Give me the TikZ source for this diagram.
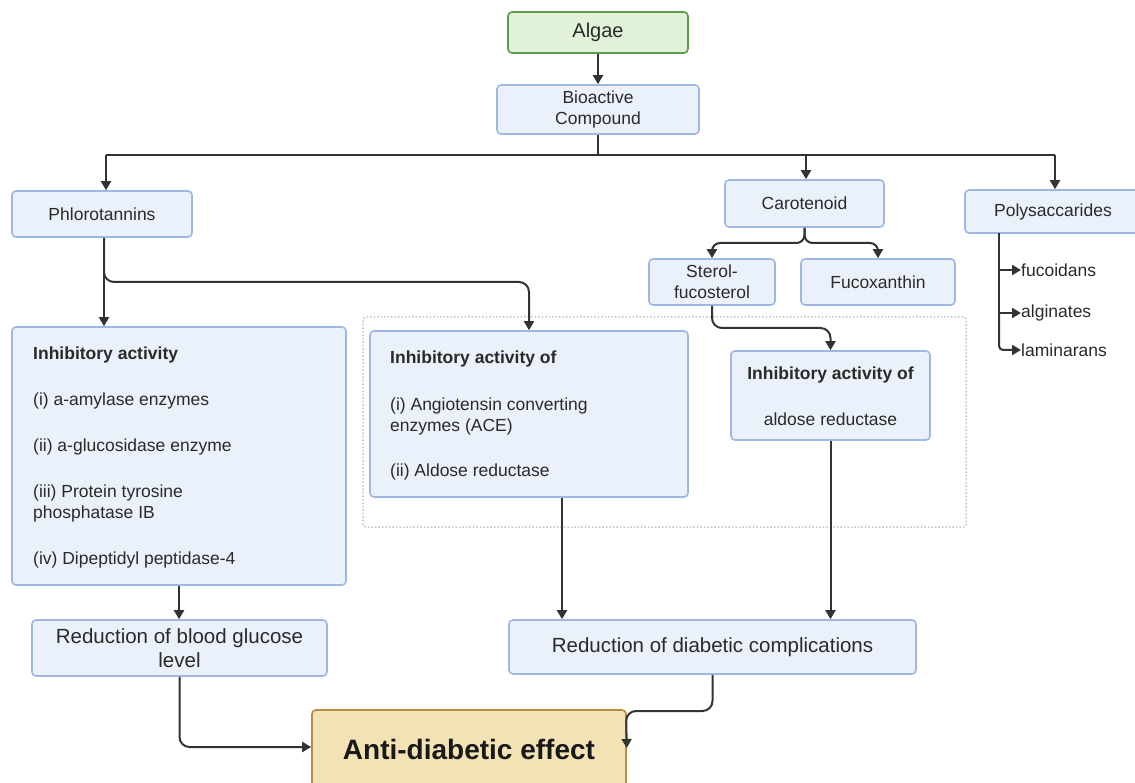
\documentclass[tikz,border=0pt]{standalone}
\usepackage{fontspec}
\setmainfont{Liberation Sans}
\usetikzlibrary{arrows.meta}
\definecolor{bfill}{HTML}{EBF1FA}
\definecolor{bdraw}{HTML}{9FB7E3}
\definecolor{gfill}{HTML}{E1F2D9}
\definecolor{gdraw}{HTML}{5E9C4C}
\definecolor{afill}{HTML}{F3E2B3}
\definecolor{adraw}{HTML}{B98A47}
\definecolor{txt}{HTML}{2A2A2A}
\definecolor{lin}{HTML}{333333}
\definecolor{dotc}{HTML}{C4C4C4}
\newcommand\fsz[2]{\fontsize{#1}{#2}\selectfont}
\begin{document}
\begin{tikzpicture}[x=1pt,y=-1pt,
  box/.style={draw=bdraw, fill=bfill, line width=1.6pt, rounded corners=4pt, inner sep=0pt,
     text=txt, align=center, font=\fsz{17.5}{21}},
  txtnode/.style={inner sep=0pt, text=txt, align=left, font=\fsz{17.5}{21}},
  conn/.style={draw=lin, line width=2pt},
  arr/.style={conn, -{Triangle[length=9pt,width=10pt]}},
]
\useasboundingbox (0,0) rectangle (1135,783);

% group outline
\node[draw=dotc, line width=1.5pt, dotted, rounded corners=3pt, minimum width=603pt, minimum height=210pt] (grp) at (664.5,422) {};

% nodes
\node[box, draw=gdraw, fill=gfill, font=\fsz{20}{24}, minimum width=180pt, minimum height=41pt] (alg) at (598,32.5) {Algae};
\node[box, minimum width=202pt, minimum height=49pt] (bio) at (598,109.5) {Bioactive\\Compound};
\node[box, minimum width=180pt, minimum height=46pt] (phl) at (102,214) {Phlorotannins};
\node[box, minimum width=159pt, minimum height=47pt] (car) at (804.5,203.5) {Carotenoid};
\node[box, minimum width=176pt, minimum height=43pt] (poly) at (1053,211.5) {Polysaccarides};
\node[box, minimum width=126pt, minimum height=46pt] (ster) at (712,282) {Sterol-\\fucosterol};
\node[box, minimum width=154pt, minimum height=46pt] (fuco) at (878,282) {Fucoxanthin};
\node[box, minimum width=334pt, minimum height=258pt] (left) at (179,456) {};
\node[box, minimum width=318pt, minimum height=166pt] (mid) at (529,414) {};
\node[box, minimum width=199pt, minimum height=89pt] (rin) at (830.5,395.5) {};
\node[box, font=\fsz{20.5}{24}, minimum width=295pt, minimum height=56pt] (red1) at (179.5,648) {Reduction of blood glucose\\level};
\node[box, font=\fsz{20.5}{24}, minimum width=407pt, minimum height=54pt] (red2) at (712.5,647) {Reduction of diabetic complications};
\node[box, draw=adraw, fill=afill, text=black!90, font=\fsz{28}{32}\bfseries, minimum width=314pt, minimum height=82pt] (anti) at (469,751) {\raisebox{3pt}{Anti-diabetic effect}};

% texts inside big boxes
\node[txtnode, anchor=north west] (lefttxt) at (33,344.3) {\strut\textbf{Inhibitory activity}\\[25.5pt]
(i) a-amylase enzymes\\[25pt]
(ii) a-glucosidase enzyme\\[25pt]
(iii) Protein tyrosine\\
phosphatase IB\\[25pt]
(iv) Dipeptidyl peptidase-4};
\node[txtnode, anchor=north west] (midtxt) at (390,348.3) {\strut\textbf{Inhibitory activity of}\\[26pt]
(i) Angiotensin converting\\
enzymes (ACE)\\[24pt]
(ii) Aldose reductase};
\node[txtnode, align=center, anchor=north] (rintxt) at (830.5,364.3) {\strut\textbf{Inhibitory activity of}\\[25pt]
aldose reductase};

% polysaccharide items
\node[txtnode, anchor=west] (fuc) at (1021,270) {fucoidans};
\node[txtnode, anchor=west] (alg2) at (1021,313) {alginates};
\node[txtnode, anchor=west] (lam) at (1021,350) {laminarans};

% bus coordinates
\coordinate (busL) at (106,155);
\coordinate (busR) at (1055,155);
\coordinate (busC) at (806,155);
\coordinate (j1) at (529,282);
\coordinate (c1) at (712,243);
\coordinate (c1b) at (878,243);
\coordinate (c2) at (830.5,328);
\coordinate (c3) at (626,711);
\coordinate (c5) at (999,233);

% connectors
\draw[arr] (alg.south) -- (bio.north);
\draw[conn] (bio.south) -- (bio.south |- busL);
\draw[conn] (busL) -- (busR);
\draw[arr] (busL) -- (busL |- phl.north);
\draw[arr] (busC) -- (busC |- car.north);
\draw[arr] (busR) -- (busR |- poly.north);

\draw[arr] ([xshift=2pt]phl.south) -- ([xshift=2pt]phl.south |- left.north);
\draw[arr, rounded corners=10pt] ([xshift=2pt]phl.south) |- (j1) -- (mid.north);

\draw[arr, rounded corners=8pt] (car.south) |- (c1) -- (ster.north);
\draw[arr, rounded corners=8pt] (car.south) |- (c1b) -- (fuco.north);
\draw[arr, rounded corners=10pt] (ster.south) |- (c2) -- (rin.north);

\draw[conn] (c5) -- (c5 |- alg2.west);
\draw[arr, rounded corners=4pt] (c5 |- alg2.west) |- (lam.west);
\draw[arr] (c5 |- fuc.west) -- (fuc.west);
\draw[arr] (c5 |- alg2.west) -- (alg2.west);

\draw[arr] (left.south) -- (left.south |- red1.north);
\draw[arr] ([xshift=33pt]mid.south) -- ([xshift=33pt]mid.south |- red2.north);
\draw[arr] (rin.south) -- (rin.south |- red2.north);

\draw[arr, rounded corners=10pt] (red1.south) |- ([yshift=4pt]anti.west);
\draw[arr, rounded corners=10pt] (red2.south) |- (c3) -- ([yshift=3pt]anti.east);
\end{tikzpicture}
\end{document}
